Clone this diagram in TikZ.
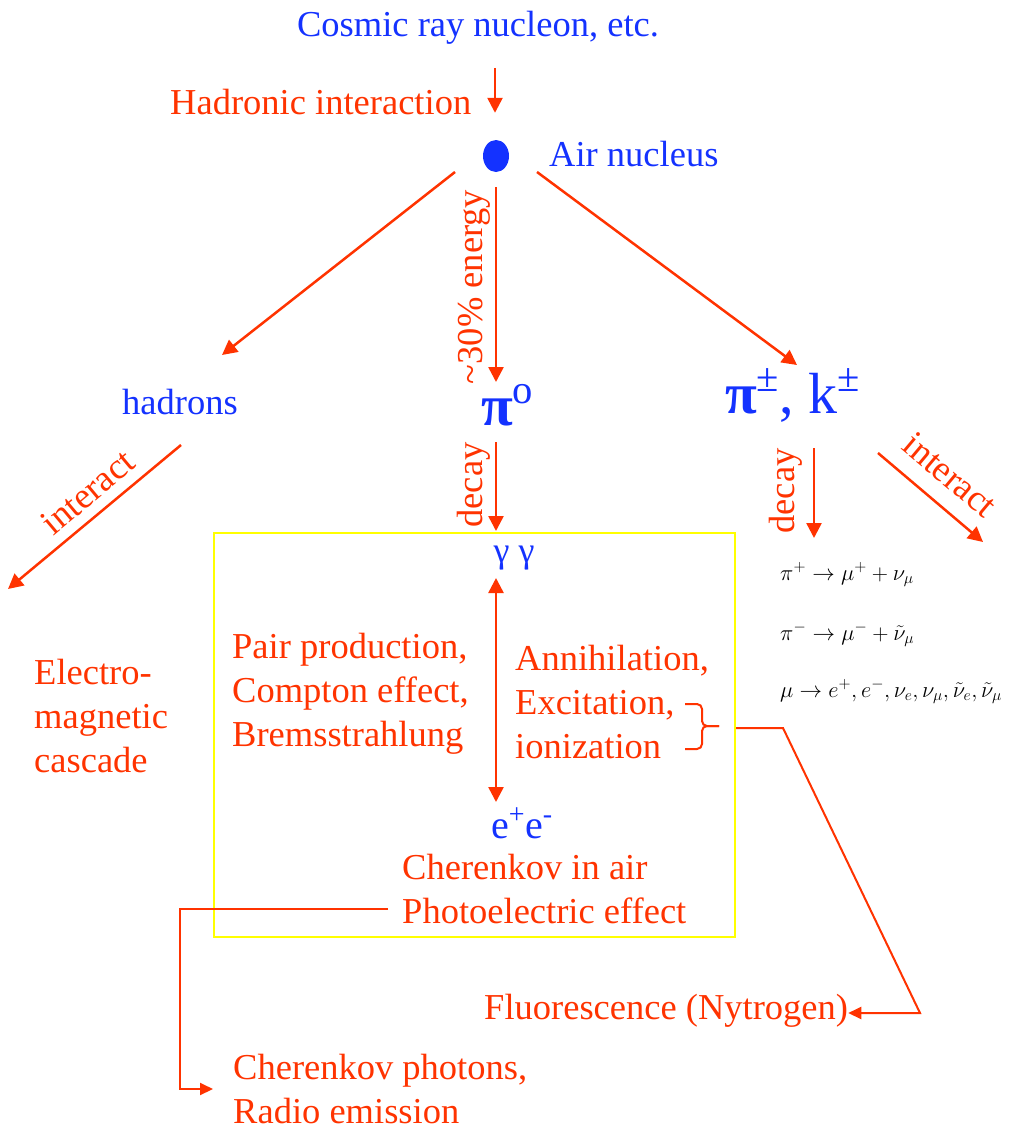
\documentclass[tikz,border=0pt]{standalone}
\usepackage{fix-cm}
\usepackage{fontspec}
\setmainfont{Liberation Serif}
\usetikzlibrary{arrows.meta,shapes.geometric}

\definecolor{fred}{RGB}{255,51,0}
\definecolor{fblue}{RGB}{20,50,255}
\definecolor{fyellow}{RGB}{255,255,0}

\tikzset{
  redarr/.style={draw=fred, line width=2.5pt, -{Triangle[length=15pt,width=15pt]}},
  redline/.style={draw=fred, line width=2pt},
  lbl/.style={inner sep=0pt, font=\fontsize{36.5}{44}\selectfont, align=left},
  redlbl/.style={lbl, text=fred},
  bluelbl/.style={lbl, text=fblue},
  biglbl/.style={bluelbl, anchor=base west, font=\fontsize{58}{60}\selectfont},
  eqn/.style={inner sep=0pt, anchor=base west, font=\fontsize{22.5}{26}\selectfont},
}

\begin{document}
\begin{tikzpicture}[x=1pt,y=-1pt]
  \useasboundingbox (0,0) rectangle (1011,1129);
  % primary and first interaction
  \node[bluelbl, anchor=base] (cosmic) at (478,37) {Cosmic ray nucleon, etc.};
  \node[redlbl, anchor=base west] (hadint) at (170,115) {Hadronic interaction};
  \node[ellipse, fill=fblue, minimum width=26pt, minimum height=32pt, inner sep=0pt] (nucleus) at (496,156) {};
  \node[bluelbl, anchor=base west] (airnuc) at (549,166) {Air nucleus};
  \coordinate (cosmicend) at (495,68);
  \draw[redarr, shorten >=27pt] (cosmicend) -- (cosmicend |- nucleus.north);

  % secondaries
  \node[bluelbl, anchor=base] (hadrons) at (180,414) {hadrons};
  \node[biglbl] (pizero) at (481,425) {\textbf{π}\textsuperscript{o}};
  \node[biglbl] (picharged) at (725,413) {\textbf{π}\textsuperscript{±}, k\textsuperscript{±}};
  \coordinate (hadstart) at (455,172);
  \coordinate (hadend) at (222,355);
  \coordinate (pizstart) at (496,187);
  \coordinate (pizend) at (496,382);
  \coordinate (pipmstart) at (537,172);
  \coordinate (pipmend) at (797,365);
  \draw[redarr] (hadstart) -- (hadend);
  \draw[redarr] (pizstart) -- (pizend);
  \draw[redarr] (pipmstart) -- (pipmend);
  \node[redlbl, rotate=90] (energy) at (474,287) {\textasciitilde30\% energy};

  % hadrons interact
  \coordinate (hintstart) at (181,445);
  \coordinate (hintend) at (8,589);
  \draw[redarr] (hintstart) -- (hintend);
  \node[redlbl, rotate=40] (interactL) at (88,492) {interact};
  \node[redlbl, anchor=base west] (emcasc) at (34,772) {Electro-\\magnetic\\cascade};

  % charged pions
  \coordinate (pdecstart) at (814,448);
  \coordinate (pdecend) at (814,538);
  \draw[redarr] (pdecstart) -- (pdecend);
  \node[redlbl, rotate=90] (decaypm) at (786,491) {decay};
  \coordinate (pintstart) at (878,453);
  \coordinate (pintend) at (983,542);
  \draw[redarr] (pintstart) -- (pintend);
  \node[redlbl, rotate=-40] (interactR) at (950,475) {interact};
  \node[eqn] (eqpiplus) at (780,580) {$\pi^+\rightarrow\mu^+ + \nu_\mu$};
  \node[eqn] (eqpiminus) at (780,640) {$\pi^-\rightarrow\mu^- + \tilde{\nu}_\mu$};
  \node[eqn] (eqmu) at (780,697) {$\mu\rightarrow e^+,e^-,\nu_e,\nu_\mu,\tilde{\nu}_e,\tilde{\nu}_\mu$};

  % electromagnetic box
  \coordinate (zdecstart) at (496,442);
  \coordinate (zdecend) at (496,531);
  \draw[redarr] (zdecstart) -- (zdecend);
  \node[redlbl, rotate=90] (decay0) at (474,485) {decay};
  \node[draw=fyellow, line width=2pt, minimum width=521pt, minimum height=404pt, inner sep=0pt] (cascbox) at (474.5,735) {};
  \node[bluelbl, anchor=base, font=\fontsize{36}{40}\selectfont] (gammas) at (514,562) {γ γ};
  \node[bluelbl, anchor=base, font=\fontsize{40}{44}\selectfont] (epem) at (522,838) {e\textsuperscript{+}e\textsuperscript{-}};
  \coordinate (gamend) at (496,578);
  \coordinate (epend) at (496,802);
  \draw[redarr, {Triangle[length=15pt,width=15pt]}-{Triangle[length=15pt,width=15pt]}] (gamend) -- (epend);
  \node[redlbl, anchor=base west] (pairprod) at (232,746) {Pair production,\\Compton effect,\\Bremsstrahlung};
  \node[redlbl, anchor=base west] (annih) at (515,758) {Annihilation,\\Excitation,\\ionization};
  \node[redlbl, anchor=base west] (cherair) at (402,923) {Cherenkov in air\\Photoelectric effect};

  % brace and fluorescence
  \coordinate (bracetip) at (719,726);
  \draw[redline, rounded corners=5pt] (685,704) -- (702,704) -- (702,726) -- (bracetip);
  \draw[redline, rounded corners=5pt] (bracetip) -- (702,726) -- (702,749) -- (685,749);
  \node[redlbl, anchor=base west] (fluor) at (484,1019) {Fluorescence (Nytrogen)};
  \coordinate (flstart) at (cascbox.east |- 0,728);
  \coordinate (flbend) at (783,728);
  \coordinate (flcorner) at (920,1013);
  \draw[redline, -{Triangle[length=13pt,width=12pt]}] (flstart) -- (flbend) -- (flcorner) -- (flcorner -| fluor.east);

  % cherenkov photons
  \node[redlbl, anchor=base west] (chphot) at (233,1123) {Cherenkov photons,\\Radio emission};
  \coordinate (chstart) at (388,909);
  \coordinate (chcorner) at (180,909);
  \coordinate (chlow) at (180,1089);
  \coordinate (chend) at (213,1089);
  \draw[redline, -{Triangle[length=13pt,width=12pt]}] (chstart) -- (chcorner) -- (chlow) -- (chend);
\end{tikzpicture}
\end{document}
